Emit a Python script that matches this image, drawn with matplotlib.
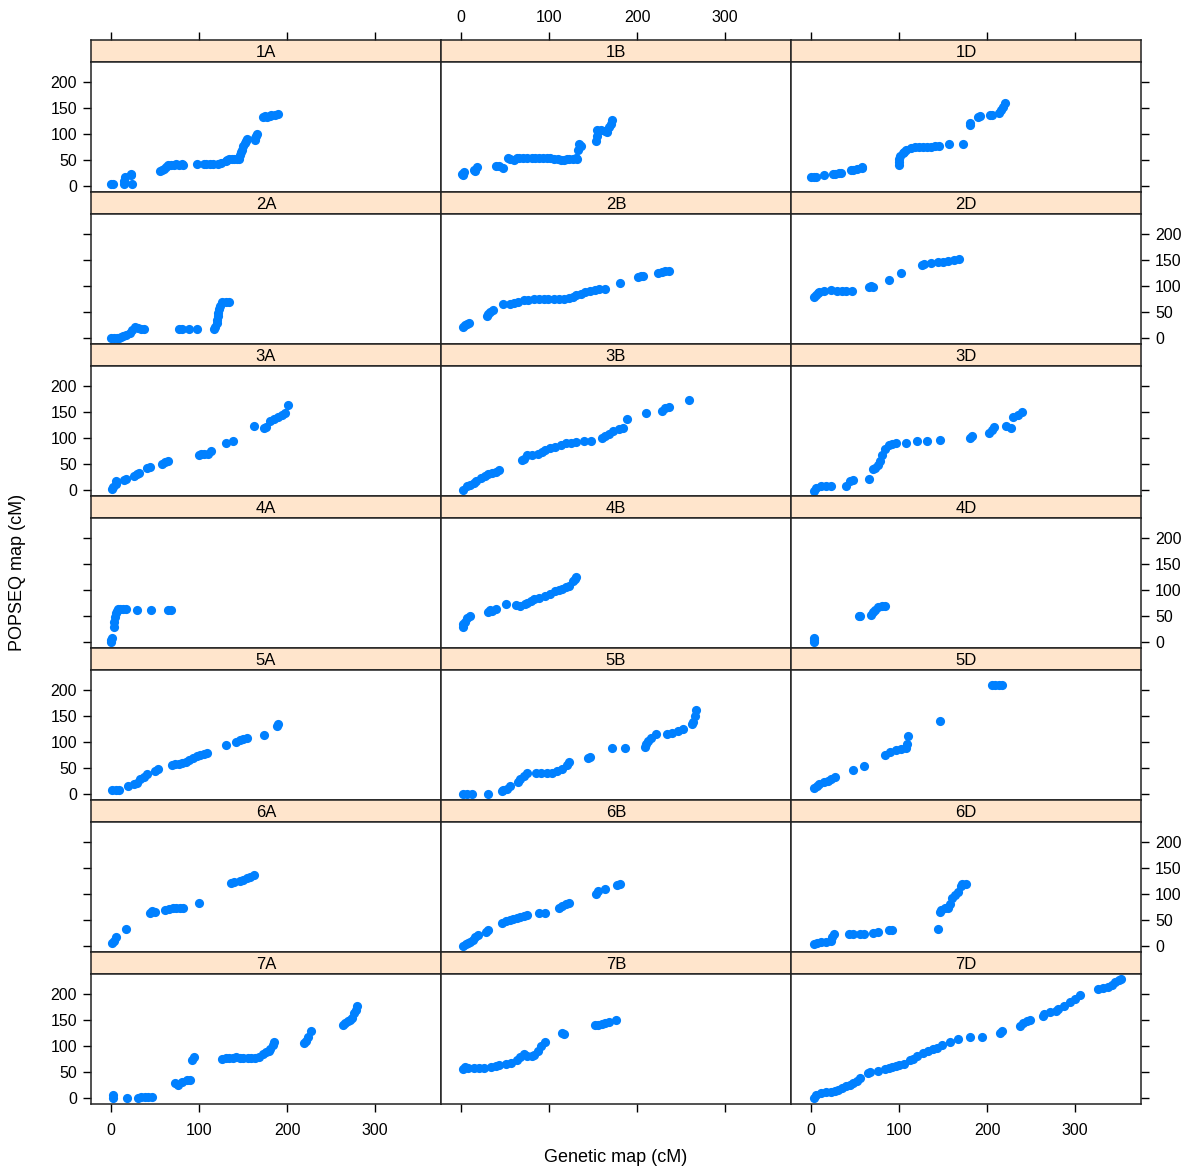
import matplotlib.pyplot as plt

plt.rcParams['font.family'] = ['Liberation Sans', 'DejaVu Sans']

# chromosome names, row by row
chroms = ['1A', '1B', '1D', '2A', '2B', '2D', '3A', '3B', '3D', '4A', '4B', '4D',
          '5A', '5B', '5D', '6A', '6B', '6D', '7A', '7B', '7D']

# (genetic map cM, POPSEQ map cM)
pts_1A = [(0, 3), (2, 4), (14, 3), (15, 10), (16, 17), (22, 20), (23, 23), (24, 3),
          (56, 28), (58, 30), (60, 33), (62, 36), (64, 40), (68, 41), (71, 41), (74, 42), (77, 41),
          (80, 42), (82, 41), (98, 43), (105, 43), (108, 43), (112, 43), (116, 43), (121, 43),
          (125, 44), (130, 47), (132, 50), (134, 52), (137, 52), (140, 52), (143, 52), (145, 52),
          (147, 60), (148, 65), (149, 70), (150, 76), (152, 83), (153, 87), (154, 90),
          (163, 88), (164, 92), (165, 97), (166, 100), (173, 133), (175, 134), (177, 133),
          (180, 135), (182, 137), (186, 137), (190, 138)]
pts_1B = [(1, 23), (2, 20), (3, 27), (14, 30), (16, 28), (18, 37), (40, 39), (43, 38), (47, 35),
          (53, 53), (56, 52), (60, 50), (63, 53), (66, 53), (70, 53), (75, 53), (80, 53), (84, 53),
          (88, 53), (93, 53), (97, 53), (101, 53), (105, 52), (110, 51), (114, 50), (117, 50),
          (120, 52), (123, 52), (127, 52), (130, 53), (132, 52), (133, 70), (134, 80), (136, 77),
          (153, 87), (154, 97), (154, 107), (159, 107), (163, 105), (166, 103), (168, 113),
          (170, 120), (172, 127)]
pts_1D = [(0, 17), (3, 16), (5, 17), (14, 20), (25, 22), (27, 23), (32, 24), (34, 25), (45, 30),
          (47, 31), (52, 32), (58, 35), (58, 37), (100, 40), (100, 45), (100, 52), (101, 57),
          (104, 63), (106, 66), (108, 70), (113, 72), (118, 75), (122, 75), (127, 75), (132, 75),
          (136, 75), (141, 76), (145, 77), (157, 81), (173, 81), (180, 117), (181, 122),
          (190, 133), (192, 134), (203, 137), (205, 136), (214, 140), (216, 147), (218, 153),
          (220, 160)]
pts_2A = [(0, 0), (3, 0), (6, 0), (9, 0), (11, 1), (13, 3), (17, 6), (21, 9), (24, 15), (27, 21),
          (30, 18), (34, 16), (37, 16), (77, 16), (80, 16), (89, 16), (97, 16), (117, 16),
          (118, 20), (120, 28), (120, 35), (121, 42), (121, 48), (122, 55), (124, 62), (126, 70),
          (130, 70), (134, 70)]
pts_2B = [(2, 21), (4, 24), (6, 27), (9, 28), (29, 42), (31, 45), (33, 50), (36, 54), (47, 65),
          (55, 66), (60, 68), (65, 70), (71, 72), (76, 73), (83, 74), (88, 74), (94, 74), (99, 74),
          (105, 74), (111, 74), (117, 74), (123, 76), (127, 78), (131, 82), (136, 85), (141, 88),
          (146, 91), (152, 93), (157, 94), (164, 95), (180, 105), (201, 118), (204, 120),
          (207, 120), (224, 125), (228, 127), (232, 128), (236, 128)]
pts_2D = [(3, 78), (5, 83), (8, 87), (9, 88), (15, 90), (23, 92), (29, 91), (35, 91), (40, 91),
          (46, 90), (66, 99), (68, 100), (70, 98), (88, 112), (102, 125), (126, 140), (128, 142),
          (136, 144), (144, 146), (150, 147), (156, 149), (162, 150), (168, 152)]
pts_3A = [(1, 1), (2, 5), (5, 12), (5, 17), (14, 19), (17, 20), (26, 26), (29, 30), (32, 33),
          (41, 43), (44, 44), (58, 50), (61, 53), (65, 55), (100, 68), (102, 70), (106, 70),
          (110, 70), (114, 75), (130, 90), (138, 95), (162, 123), (174, 120), (176, 122),
          (181, 133), (185, 136), (190, 140), (194, 144), (198, 148), (201, 163)]
pts_3B = [(2, 0), (7, 7), (10, 10), (14, 14), (17, 17), (22, 22), (27, 27), (30, 30), (35, 33),
          (39, 35), (43, 38), (69, 57), (71, 60), (75, 67), (81, 68), (87, 70), (92, 73), (95, 77),
          (101, 80), (107, 83), (113, 86), (119, 90), (125, 91), (131, 93), (140, 94), (148, 95),
          (160, 100), (164, 103), (168, 108), (173, 113), (179, 117), (184, 120), (189, 137),
          (210, 148), (228, 153), (232, 157), (236, 160), (259, 173)]
pts_3D = [(3, -2), (5, 4), (11, 7), (17, 7), (22, 7), (39, 7), (44, 17), (48, 19), (66, 20),
          (70, 40), (73, 43), (76, 47), (78, 55), (80, 67), (84, 78), (88, 87), (92, 89), (96, 90),
          (108, 91), (120, 95), (132, 95), (146, 97), (181, 100), (183, 103), (202, 110),
          (206, 115), (208, 122), (221, 123), (227, 120), (229, 140), (235, 145), (240, 151)]
pts_4A = [(0, 0), (0, 3), (1, 7), (3, 29), (3, 39), (4, 48), (5, 55), (6, 60), (8, 63), (10, 63),
          (13, 63), (17, 63), (29, 62), (45, 62), (65, 62), (68, 62)]
pts_4B = [(2, 29), (2, 35), (4, 39), (7, 45), (10, 50), (31, 58), (33, 62), (35, 60), (39, 63),
          (51, 72), (62, 71), (67, 70), (72, 73), (75, 75), (79, 78), (83, 82), (88, 85), (95, 88),
          (101, 93), (107, 98), (111, 100), (115, 102), (119, 105), (123, 108), (127, 117),
          (129, 121), (131, 125)]
pts_4D = [(3, 0), (3, 4), (3, 7), (54, 49), (56, 50), (68, 52), (70, 57), (72, 62), (76, 68),
          (80, 70), (84, 70)]
pts_5A = [(1, 7), (5, 8), (9, 8), (19, 15), (26, 18), (29, 21), (33, 28), (37, 33), (41, 38),
          (50, 44), (53, 47), (69, 55), (73, 57), (77, 58), (81, 59), (85, 62), (89, 65), (93, 70),
          (97, 73), (101, 75), (105, 77), (109, 78), (130, 95), (142, 100), (146, 103), (150, 105),
          (154, 108), (174, 113), (188, 130), (190, 135)]
pts_5B = [(2, 0), (7, 0), (12, 0), (31, 0), (46, 5), (48, 8), (52, 10), (56, 15), (64, 22),
          (67, 28), (71, 35), (75, 41), (85, 41), (91, 41), (97, 41), (103, 41), (109, 44),
          (115, 48), (120, 55), (122, 61), (144, 69), (146, 71), (171, 88), (186, 88), (209, 91),
          (210, 96), (212, 101), (216, 108), (221, 115), (234, 115), (240, 118), (246, 121),
          (252, 125), (262, 134), (264, 138), (266, 150), (267, 161)]
pts_5D = [(3, 11), (6, 15), (9, 18), (14, 22), (19, 25), (23, 28), (27, 33), (47, 45), (60, 53),
          (84, 75), (90, 80), (96, 85), (102, 87), (108, 89), (109, 97), (110, 111), (146, 141),
          (205, 211), (209, 211), (213, 211), (217, 211)]
pts_6A = [(1, 5), (3, 10), (5, 17), (17, 33), (44, 63), (46, 67), (50, 66), (61, 69), (66, 71),
          (70, 72), (74, 73), (78, 73), (82, 73), (100, 83), (136, 121), (140, 123), (146, 125),
          (150, 127), (154, 130), (158, 133), (162, 137)]
pts_6B = [(2, 0), (5, 3), (8, 5), (10, 7), (13, 12), (16, 17), (19, 20), (28, 27), (31, 30),
          (46, 44), (51, 47), (55, 49), (59, 52), (63, 53), (67, 56), (71, 58), (75, 60), (89, 63),
          (95, 63), (111, 72), (115, 77), (119, 80), (123, 83), (153, 100), (156, 105), (164, 110),
          (177, 117), (180, 120)]
pts_6D = [(3, 3), (7, 5), (11, 7), (17, 8), (23, 10), (24, 17), (26, 23), (43, 23), (47, 23),
          (55, 23), (60, 23), (70, 25), (76, 27), (88, 30), (92, 30), (144, 33), (146, 65),
          (148, 70), (152, 72), (156, 73), (158, 80), (160, 93), (164, 98), (167, 103), (170, 115),
          (172, 120), (176, 120)]
pts_7A = [(2, 0), (2, 5), (18, 0), (30, 0), (34, 1), (38, 2), (42, 2), (46, 2), (73, 28), (76, 25),
          (80, 30), (86, 35), (90, 35), (92, 73), (94, 78), (126, 75), (130, 77), (134, 77),
          (138, 77), (142, 78), (146, 77), (150, 77), (155, 77), (159, 77), (163, 77), (168, 78),
          (173, 85), (176, 88), (179, 91), (181, 95), (184, 102), (185, 108), (219, 105),
          (221, 110), (224, 118), (227, 128), (263, 141), (266, 144), (269, 148), (271, 151),
          (274, 155), (276, 163), (278, 170), (279, 177)]
pts_7B = [(2, 55), (4, 60), (8, 58), (14, 58), (20, 58), (26, 58), (34, 60), (40, 62), (43, 63),
          (51, 66), (57, 67), (63, 72), (67, 78), (71, 85), (75, 80), (80, 80), (83, 82), (87, 91),
          (91, 100), (95, 108), (115, 126), (117, 124), (152, 141), (156, 140), (160, 142),
          (164, 144), (168, 146), (176, 151)]
pts_7D = [(3, 0), (5, 5), (11, 9), (17, 11), (22, 12), (27, 14), (30, 15), (35, 18), (40, 22),
          (44, 25), (48, 28), (52, 33), (56, 38), (64, 48), (67, 50), (76, 52), (84, 55), (88, 58),
          (92, 60), (96, 61), (100, 63), (106, 65), (112, 72), (116, 75), (120, 81), (127, 86),
          (133, 91), (138, 94), (143, 97), (149, 101), (158, 107), (167, 113), (181, 118),
          (194, 118), (215, 125), (217, 128), (237, 139), (241, 144), (245, 148), (249, 151),
          (263, 158), (265, 161), (272, 165), (278, 168), (281, 171), (287, 177), (294, 184),
          (300, 191), (306, 199), (326, 211), (332, 212), (338, 214), (342, 218), (346, 224),
          (350, 227), (352, 229)]

x_ticks = [0, 100, 200, 300]
y_ticks = [0, 50, 100, 150, 200]

data = {'1A': pts_1A, '1B': pts_1B, '1D': pts_1D, '2A': pts_2A, '2B': pts_2B, '2D': pts_2D,
        '3A': pts_3A, '3B': pts_3B, '3D': pts_3D, '4A': pts_4A, '4B': pts_4B, '4D': pts_4D,
        '5A': pts_5A, '5B': pts_5B, '5D': pts_5D, '6A': pts_6A, '6B': pts_6B, '6D': pts_6D,
        '7A': pts_7A, '7B': pts_7B, '7D': pts_7D}

W, H = 1192, 1170
fig = plt.figure(figsize=(W / 100, H / 100), dpi=100)

left0, top0 = 91, 40
col_w = 350
strip_h, panel_h = 22, 130
row_h = strip_h + panel_h
xlim = (-23, 375)
ylim = (-12, 239)
dot = '#0080ff'
strip_col = '#ffe5cc'
fs = 11.5


def box(x, y, w, h):
    return [x / W, 1 - (y + h) / H, w / W, h / H]


for i, name in enumerate(chroms):
    r, c = divmod(i, 3)
    x = left0 + c * col_w
    y = top0 + r * row_h

    sax = fig.add_axes(box(x, y, col_w, strip_h))
    sax.set_facecolor(strip_col)
    sax.set_xlim(xlim)
    sax.set_yticks([])
    sax.text(0.5, 0.45, name, transform=sax.transAxes, ha='center', va='center', fontsize=12)
    if r == 0:
        sax.set_xticks(x_ticks)
        sax.tick_params(axis='x', top=True, labeltop=(c == 1), bottom=False, labelbottom=False,
                        direction='out', length=6, width=1, labelsize=fs, pad=5)
    else:
        sax.set_xticks([])

    ax = fig.add_axes(box(x, y + strip_h, col_w, panel_h))
    xs = [p[0] for p in data[name]]
    ys = [p[1] for p in data[name]]
    ax.plot(xs, ys, 'o', color=dot, markersize=6.6, markeredgewidth=0)
    ax.set_xlim(xlim)
    ax.set_ylim(ylim)

    if r == 6:
        ax.set_xticks(x_ticks)
        ax.tick_params(axis='x', bottom=True, labelbottom=(c != 1), direction='out',
                       length=6, width=1, labelsize=fs, pad=8)
    else:
        ax.set_xticks([])

    if c == 0:
        ax.set_yticks(y_ticks)
        ax.tick_params(axis='y', left=True, labelleft=(r % 2 == 0), right=False,
                       direction='out', length=6, width=1, labelsize=fs, pad=4)
    elif c == 2:
        ax.set_yticks(y_ticks)
        ax.tick_params(axis='y', left=False, labelleft=False, right=True,
                       labelright=(r % 2 == 1), direction='out', length=6, width=1,
                       labelsize=fs, pad=4)
    else:
        ax.set_yticks([])

    for a in (ax, sax):
        for s in a.spines.values():
            s.set_linewidth(1.1)
            s.set_color('#222222')

fig.text(616 / W, 1 - 1158 / H, 'Genetic map (cM)', ha='center', va='center', fontsize=13)
fig.text(18 / W, 1 - 572 / H, 'POPSEQ map (cM)', ha='center', va='center', rotation=90,
         fontsize=13)

fig.savefig('out.png', dpi=100)
